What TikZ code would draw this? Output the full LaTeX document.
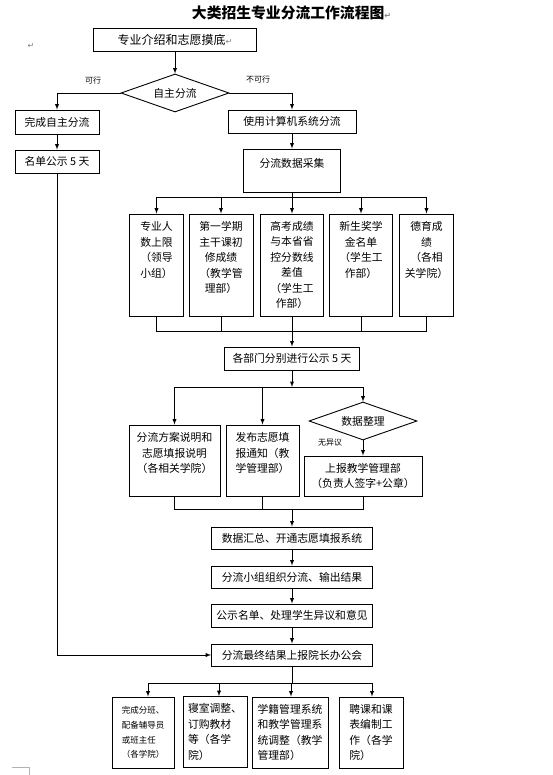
\documentclass[tikz,border=0pt]{standalone}
\usepackage{fontspec}
\setmainfont{Noto Sans CJK SC}
\newfontfamily\retfont{DejaVu Sans}
\newcommand{\retmark}{{\retfont\fontsize{8}{8}\selectfont\textcolor{gray}{↵}}}
\usetikzlibrary{shapes.geometric}

\begin{document}
\begin{tikzpicture}[x=1pt,y=-1pt,line width=0.9pt]
      \useasboundingbox (0,0) rectangle (553,775);
      \tikzstyle {stepbox} = [shape=rectangle, draw=black, inner sep=0pt, align=center, font=\fontsize{10.8}{15.5}\selectfont];
      \tikzstyle {choice} = [shape=diamond, draw=black, aspect=2.8, inner sep=0pt, minimum width=108pt, minimum height=38pt, font=\fontsize{10.8}{13}\selectfont];
      \tikzstyle {note} = [inner sep=0pt, font=\fontsize{8}{10}\selectfont];
      \node (title) at (291.5,13) {\fontsize{14.8}{16}\selectfont\bfseries 大类招生专业分流工作流程图\retmark};
      \node (margin) at (31,46) {\retmark};
      \node (intro) [stepbox, minimum width=163pt, minimum height=23pt, font=\fontsize{12}{14}\selectfont] at (175,39.5) {专业介绍和志愿摸底\retmark};
      \node (self) [choice] at (175,93) {自主分流};
      \node (yes) [note] at (93,80) {可行};
      \node (no) [note] at (258,79) {不可行};
      \node (done) [stepbox, minimum width=84pt, minimum height=24pt] at (57,122) {完成自主分流};
      \node (names) [stepbox, minimum width=84pt, minimum height=23pt] at (57,161.5) {名单公示 5 天};
      \node (computer) [stepbox, minimum width=128pt, minimum height=23pt] at (292,121.5) {使用计算机系统分流};
      \node (collect) [stepbox, minimum width=97pt, minimum height=43pt] at (292,170.5) {分流数据采集\\~};
      \draw [-latex] (intro) -- (self);
      \draw [-latex] (self.west) -| (done);
      \draw [-latex] (self.east) -| (computer);
      \draw [-latex] (done) -- (names);
      \draw [-latex] (computer) -- (collect);
      \coordinate (split) at (292,197);
      \coordinate (merge) at (292,331);
      \node (quota) [stepbox, minimum width=54pt, minimum height=102pt] at (156.5,265) {专业人\\数上限\\（领导\\小组）\\~\\~};
      \node (grade) [stepbox, minimum width=64pt, minimum height=102pt] at (221,265) {第一学期\\主干课初\\修成绩\\（教学管\\理部）\\~};
      \node (exam) [stepbox, minimum width=63pt, minimum height=102pt] at (292,265) {高考成绩\\与本省省\\控分数线\\差值\\（学生工\\作部）};
      \node (award) [stepbox, minimum width=63pt, minimum height=102pt] at (361,265) {新生奖学\\金名单\\（学生工\\作部）\\~\\~};
      \node (moral) [stepbox, minimum width=54pt, minimum height=102pt] at (426.5,265) {德育成\\绩\\（各相\\关学院）\\~\\~};
      \draw (collect) -- (split);
      \draw (quota |- split) -- (moral |- split);
      \draw [-latex] (quota |- split) -- (quota);
      \draw [-latex] (grade |- split) -- (grade);
      \draw [-latex] (exam |- split) -- (exam);
      \draw [-latex] (award |- split) -- (award);
      \draw [-latex] (moral |- split) -- (moral);
      \draw (quota.south) |- (moral |- merge) -- (moral.south);
      \draw (grade.south) -- (grade |- merge);
      \draw (exam.south) -- (exam |- merge);
      \draw (award.south) -- (award |- merge);
      \node (publicize) [stepbox, minimum width=135pt, minimum height=23pt] at (292,358.5) {各部门分别进行公示 5 天};
      \draw [-latex] (merge) -- (publicize);
      \coordinate (spread) at (292,387);
      \coordinate (gather) at (292,509);
      \node (plan) [stepbox, minimum width=91pt, minimum height=71pt] at (174.5,460.5) {分流方案说明和\\志愿填报说明\\（各相关学院）\\~};
      \node (notice) [stepbox, minimum width=73pt, minimum height=71pt] at (262.5,460.5) {发布志愿填\\报通知（教\\学管理部）\\~};
      \node (sort) [choice] at (363,421) {数据整理};
      \node (agree) [note] at (330,443) {无异议};
      \node (report) [stepbox, minimum width=118pt, minimum height=40pt] at (363,476) {上报教学管理部\\（负责人签字+公章）};
      \draw [-latex] (publicize) -- (spread);
      \draw (plan |- spread) -- (sort |- spread);
      \draw [-latex] (plan |- spread) -- (plan);
      \draw [-latex] (notice |- spread) -- (notice);
      \draw [-latex] (sort |- spread) -- (sort);
      \draw [-latex] (sort) -- (report);
      \draw (plan.south) |- (report |- gather) -- (report.south);
      \draw (notice.south) -- (notice |- gather);
      \node (summary) [stepbox, minimum width=161pt, minimum height=22pt] at (292,538) {数据汇总、开通志愿填报系统};
      \node (group) [stepbox, minimum width=161pt, minimum height=22pt] at (292,577) {分流小组组织分流、输出结果};
      \node (announce) [stepbox, minimum width=161pt, minimum height=23pt] at (292,615.5) {公示名单、处理学生异议和意见};
      \node (final) [stepbox, minimum width=161pt, minimum height=22pt] at (292,655) {分流最终结果上报院长办公会};
      \draw [-latex] (gather) -- (summary);
      \draw [-latex] (summary) -- (group);
      \draw [-latex] (group) -- (announce);
      \draw [-latex] (announce) -- (final);
      \draw [-latex] (names) |- (final);
      \coordinate (fan) at (292,683);
      \coordinate (t1) at (148,683);
      \coordinate (t2) at (219,683);
      \coordinate (t3) at (291,683);
      \coordinate (t4) at (372,683);
      \node (classes) [stepbox, align=left, minimum width=62pt, minimum height=71pt, font=\fontsize{8.5}{14.6}\selectfont] at (143,732.5) {完成分班、\\配备辅导员\\或班主任\\（各学院）};
      \node (dorm) [stepbox, align=left, minimum width=64pt, minimum height=71pt] at (215,732) {寝室调整、\\订购教材\\等（各学\\院）};
      \node (records) [stepbox, align=left, minimum width=76pt, minimum height=71pt] at (290,732.5) {学籍管理系统\\和教学管理系\\统调整（教学\\管理部）};
      \node (timetable) [stepbox, align=left, minimum width=64pt, minimum height=71pt] at (371,732.5) {聘课和课\\表编制工\\作（各学\\院）};
      \draw (final) -- (fan);
      \draw (t1) -- (t4);
      \draw [-latex] (t1) -- (t1 |- classes.north);
      \draw [-latex] (t2) -- (t2 |- dorm.north);
      \draw [-latex] (t3) -- (t3 |- records.north);
      \draw [-latex] (t4) -- (t4 |- timetable.north);
      \draw [gray!60, line width=0.8pt] (12,767) -- (29,767) -- (29,775);
\end{tikzpicture}
\end{document}
